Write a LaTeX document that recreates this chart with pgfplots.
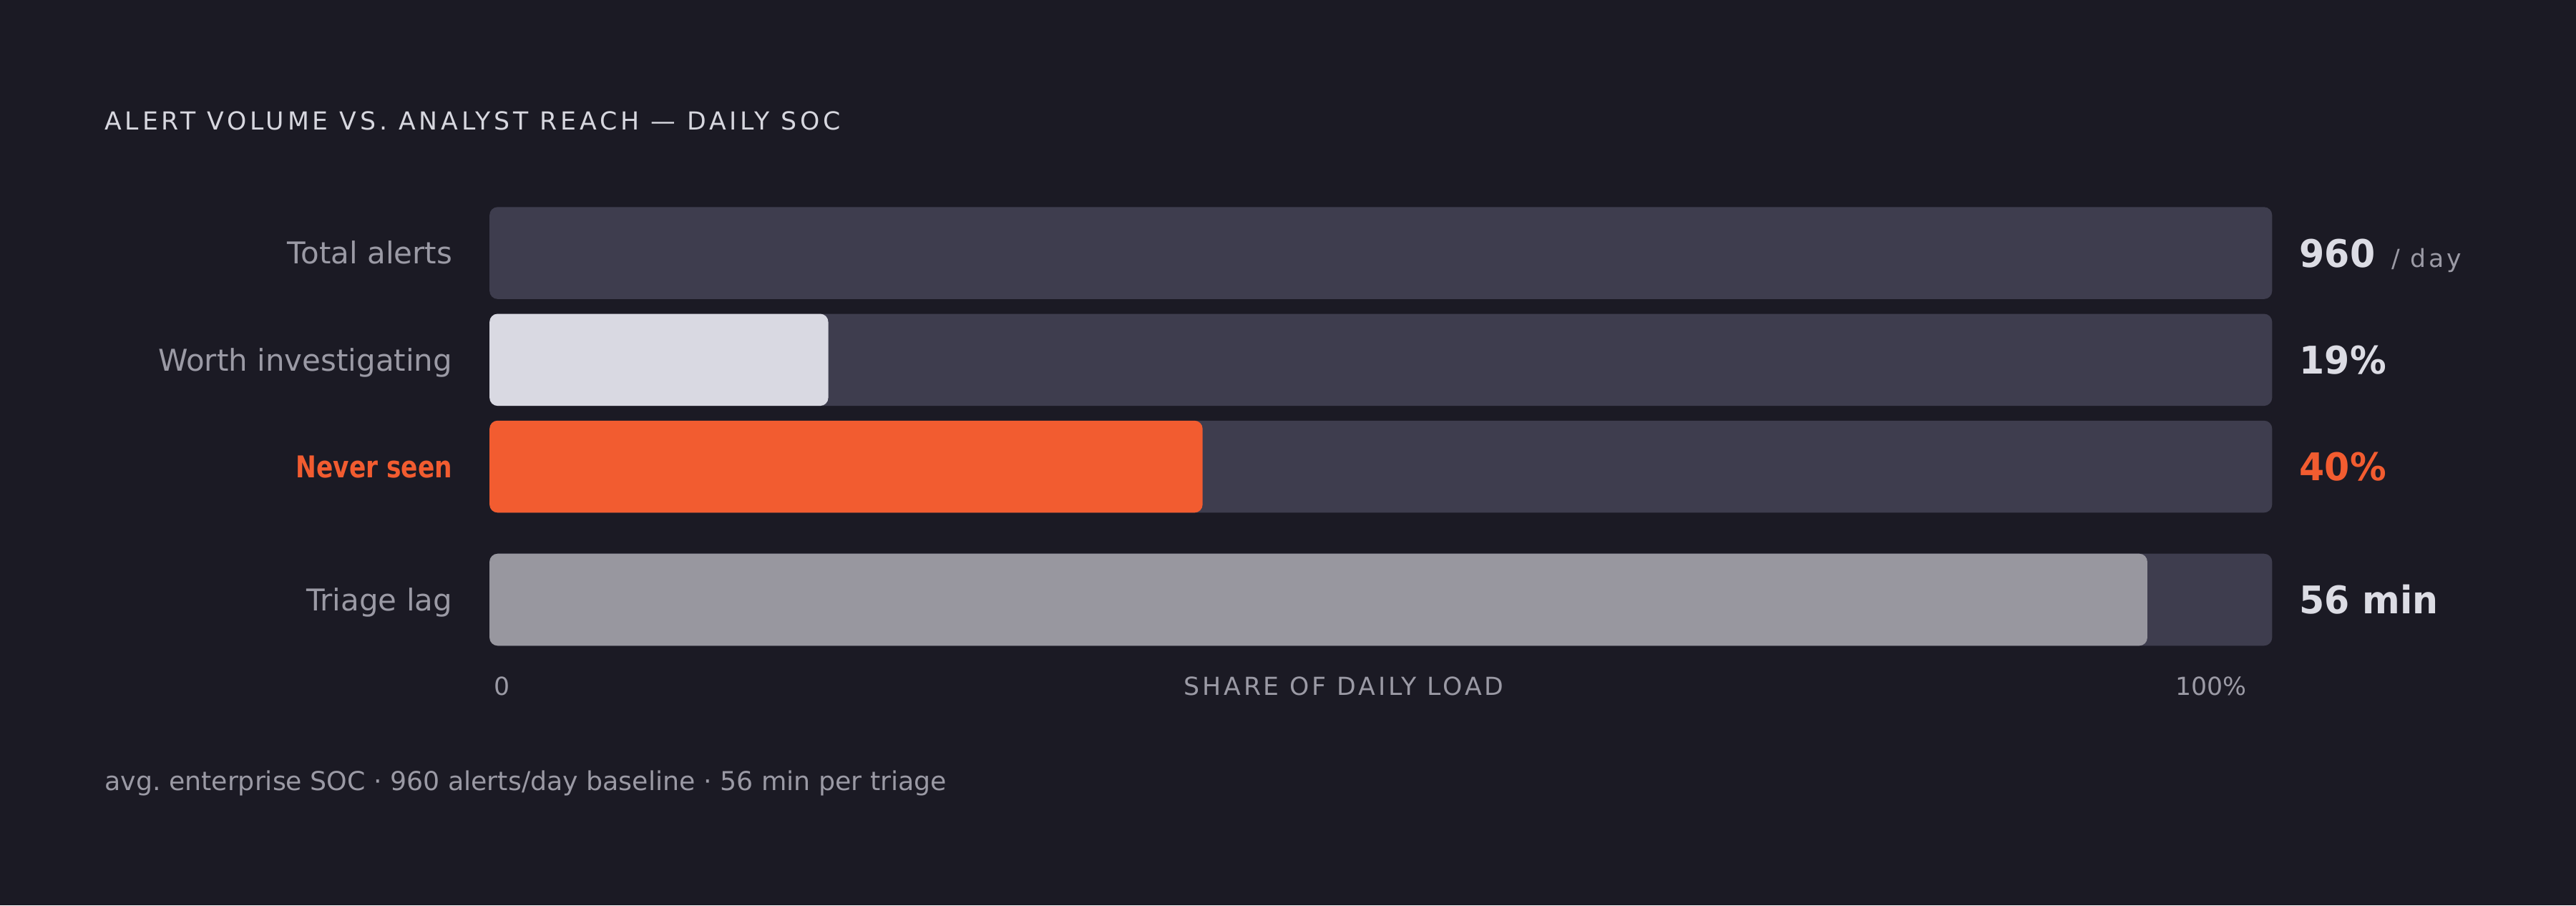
\documentclass[border=0pt]{standalone}
\usepackage{pgfplots}
\pgfplotsset{compat=1.18}
\usepackage{fontspec}
\setmainfont{DejaVu Sans}
\newfontfamily\spaced[LetterSpace=11]{DejaVu Sans}
\newfontfamily\titlefont[LetterSpace=14]{DejaVu Sans}
\newfontfamily\narrowfont[FakeStretch=0.82]{DejaVu Sans}
\newfontfamily\valfont[FakeStretch=0.95]{DejaVu Sans}

\definecolor{bg}{HTML}{1B1A24}
\definecolor{track}{HTML}{3E3D4E}
\definecolor{lightbar}{HTML}{D9D9E2}
\definecolor{accent}{HTML}{F25C30}
\definecolor{lagbar}{HTML}{98979F}
\definecolor{labelc}{HTML}{9B9AA5}
\definecolor{titlec}{HTML}{D7D7DF}
\definecolor{valc}{HTML}{DCDCE4}

\pgfplotsset{
  rowbar/.style={xbar, bar width=5.6mm, bar shift=0pt, draw=none, rounded corners=1.4pt},
}

\begin{document}
\begin{tikzpicture}
\fill[bg] (0,0) rectangle (156.8mm,55.1mm);

\node[anchor=base west, inner sep=0pt, text=titlec, font=\titlefont\fontsize{4.3}{5}\selectfont]
  at (6.3mm,47.2mm) {ALERT VOLUME VS.\ ANALYST REACH — DAILY SOC};

\begin{axis}[
  at={(29.8mm,15mm)}, anchor=south west,
  x=1.085mm, y=6.5mm,
  xmin=0, xmax=100, ymin=-0.8, ymax=3.6,
  axis line style={draw=none}, tick style={draw=none},
  xtick=\empty,
  ytick={-0.246,1,2,3},
  yticklabels={Triage lag,{\narrowfont\bfseries\color{accent}Never seen},Worth investigating,Total alerts},
  yticklabel style={anchor=base east, inner sep=0pt, xshift=-2.2mm, yshift=-0.67mm,
    text=labelc, font=\fontsize{5.2}{6}\selectfont},
  clip=false,
]
% tracks
\addplot[rowbar, fill=track] coordinates {(100,3) (100,2) (100,1) (100,-0.246)};
% fills
\addplot[rowbar, fill=lightbar] coordinates {(19,2)};
\addplot[rowbar, fill=accent] coordinates {(40,1)};
\addplot[rowbar, fill=lagbar] coordinates {(93,-0.246)};

\node[anchor=base west, inner sep=0pt, xshift=1.6mm, yshift=-0.85mm, text=valc,
  font=\valfont\bfseries\fontsize{6.6}{7}\selectfont] at (axis cs:100,3)
  {960\hspace{1mm}{\mdseries\spaced\fontsize{4.3}{5}\selectfont\color{labelc}/ day}};
\node[anchor=base west, inner sep=0pt, xshift=1.6mm, yshift=-0.85mm, text=valc,
  font=\valfont\bfseries\fontsize{6.6}{7}\selectfont] at (axis cs:100,2) {19\%};
\node[anchor=base west, inner sep=0pt, xshift=1.6mm, yshift=-0.85mm, text=accent,
  font=\valfont\bfseries\fontsize{6.6}{7}\selectfont] at (axis cs:100,1) {40\%};
\node[anchor=base west, inner sep=0pt, xshift=1.6mm, yshift=-0.85mm, text=valc,
  font=\valfont\bfseries\fontsize{6.6}{7}\selectfont] at (axis cs:100,-0.246) {56 min};
\end{axis}

\node[anchor=base west, inner sep=0pt, text=labelc, font=\fontsize{4.3}{5}\selectfont]
  at (30.0mm,12.8mm) {0};
\node[anchor=base, inner sep=0pt, text=labelc, font=\spaced\fontsize{4.3}{5}\selectfont]
  at (81.8mm,12.8mm) {SHARE OF DAILY LOAD};
\node[anchor=base east, inner sep=0pt, text=labelc, font=\fontsize{4.3}{5}\selectfont]
  at (136.8mm,12.8mm) {100\%};

\node[anchor=base west, inner sep=0pt, text=labelc, font=\fontsize{4.5}{5}\selectfont]
  at (6.3mm,7.0mm) {avg.\ enterprise SOC · 960 alerts/day baseline · 56 min per triage};

\pgfresetboundingbox
\useasboundingbox (0,0) rectangle (156.8mm,55.1mm);
\end{tikzpicture}
\end{document}
